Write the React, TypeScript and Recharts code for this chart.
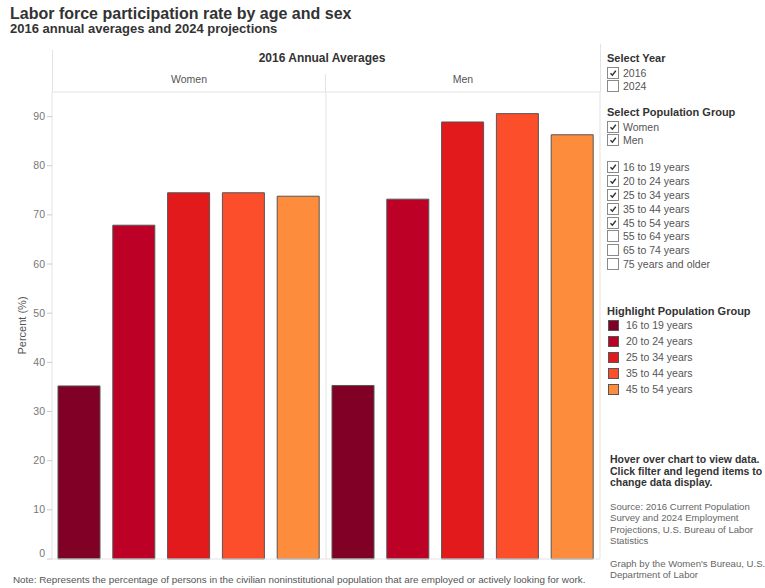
import { BarChart, Bar, XAxis, YAxis, CartesianGrid, ReferenceLine, Cell, Label } from 'recharts';

const SEXES = ['Women', 'Men'];
const AGE_GROUPS = ['16 to 19 years', '20 to 24 years', '25 to 34 years', '35 to 44 years', '45 to 54 years'];
const WOMEN_2016 = [35.2, 67.9, 74.5, 74.5, 73.8];
const MEN_2016 = [35.3, 73.2, 88.9, 90.6, 86.3];
const AGE_COLORS = ['#800026', '#bd0026', '#e31a1c', '#fc4e2a', '#fd8d3c'];
const Y_TICKS = [0, 10, 20, 30, 40, 50, 60, 70, 80, 90];

const YEARS = ['2016', '2024'];
const CHECKED_YEARS = ['2016'];
const ALL_AGE_GROUPS = [...AGE_GROUPS, '55 to 64 years', '65 to 74 years', '75 years and older'];

const FONT = "'Liberation Sans', Arial, sans-serif";
const GRID = '#e3e3e3';

const chartData = SEXES.flatMap((sex, s) =>
  AGE_GROUPS.map((age, i) => ({
    key: sex + '|' + age,
    sex,
    age,
    ageIndex: i,
    value: (s === 0 ? WOMEN_2016 : MEN_2016)[i],
  }))
);

function SexTick({ x, y, payload, index }: any) {
  // one label per panel, on the middle bar
  if (index % AGE_GROUPS.length !== Math.floor(AGE_GROUPS.length / 2)) return <g />;
  return (
    <text x={x} y={y} textAnchor="middle" fontSize={10.5} fill="#555" fontFamily={FONT}>
      {String(payload.value).split('|')[0]}
    </text>
  );
}

function PctTick({ x, y, payload }: any) {
  const dy = payload.value === 0 ? -2 : 3.5;
  return (
    <text x={x} y={y} dy={dy} textAnchor="end" fontSize={10.5} fill="#777" fontFamily={FONT}>
      {payload.value}
    </text>
  );
}

function CheckBox({ checked }: { checked: boolean }) {
  return (
    <div style={{ width: 10, height: 10, border: '1px solid #8a8a8a', background: '#fff', flex: 'none', marginRight: 4 }}>
      {checked && (
        <svg width={10} height={10} style={{ display: 'block' }}>
          <path d="M2.5 5.2 L4.4 7.2 L7.8 2.8" stroke="#333" strokeWidth={1.4} fill="none" />
        </svg>
      )}
    </div>
  );
}

function CheckRow({ label, checked, height }: { label: string; checked: boolean; height: number }) {
  return (
    <div style={{ display: 'flex', alignItems: 'center', height, fontSize: 10.5, color: '#555' }}>
      <CheckBox checked={checked} />
      <span>{label}</span>
    </div>
  );
}

const head: any = { fontWeight: 'bold', fontSize: 11, color: '#333', lineHeight: '14px' };

function SidePanel() {
  return (
    <div style={{ position: 'absolute', left: 607, top: 0, width: 158, height: 588, fontFamily: FONT, whiteSpace: 'nowrap' }}>
      <div style={{ position: 'absolute', top: 51, ...head }}>Select Year</div>
      <div style={{ position: 'absolute', top: 66 }}>
        {YEARS.map((y) => (
          <CheckRow key={y} label={y} checked={CHECKED_YEARS.includes(y)} height={13.5} />
        ))}
      </div>
      <div style={{ position: 'absolute', top: 105, ...head }}>Select Population Group</div>
      <div style={{ position: 'absolute', top: 120 }}>
        {SEXES.map((s) => (
          <CheckRow key={s} label={s} checked height={13.5} />
        ))}
      </div>
      <div style={{ position: 'absolute', top: 160 }}>
        {ALL_AGE_GROUPS.map((a) => (
          <CheckRow key={a} label={a} checked={AGE_GROUPS.includes(a)} height={13.9} />
        ))}
      </div>
      <div style={{ position: 'absolute', top: 304, ...head }}>Highlight Population Group</div>
      <div style={{ position: 'absolute', top: 317 }}>
        {AGE_GROUPS.map((a, i) => (
          <div key={a} style={{ display: 'flex', alignItems: 'center', height: 16, fontSize: 10.5, color: '#555' }}>
            <div style={{ width: 9, height: 9, background: AGE_COLORS[i], border: '1px solid #555', marginLeft: 1, marginRight: 7 }} />
            <span>{a}</span>
          </div>
        ))}
      </div>
      <div style={{ position: 'absolute', top: 454, left: 3, fontWeight: 'bold', fontSize: 10.5, color: '#333', lineHeight: '11.5px' }}>
        Hover over chart to view data.<br />
        Click filter and legend items to<br />
        change data display.
      </div>
      <div style={{ position: 'absolute', top: 501, left: 3, fontSize: 9.6, color: '#666', lineHeight: '11.4px' }}>
        Source: 2016 Current Population<br />
        Survey and 2024 Employment<br />
        Projections, U.S. Bureau of Labor<br />
        Statistics
      </div>
      <div style={{ position: 'absolute', top: 558, left: 3, fontSize: 9.6, color: '#666', lineHeight: '11.4px' }}>
        Graph by the Women's Bureau, U.S.<br />
        Department of Labor
      </div>
    </div>
  );
}

export default function App() {
  return (
    <div style={{ position: 'absolute', left: 0, top: 0, width: 765, height: 588, background: '#fff', fontFamily: FONT, overflow: 'hidden' }}>
      <div style={{ position: 'absolute', left: 10, top: 4, fontSize: 16, fontWeight: 'bold', color: '#333', lineHeight: '20px' }}>
        Labor force participation rate by age and sex
      </div>
      <div style={{ position: 'absolute', left: 10, top: 21, fontSize: 13, fontWeight: 'bold', color: '#333', lineHeight: '16px' }}>
        2016 annual averages and 2024 projections
      </div>
      <div style={{ position: 'absolute', left: 52, width: 540, top: 51, textAlign: 'center', fontSize: 12, fontWeight: 'bold', color: '#333', lineHeight: '15px' }}>
        2016 Annual Averages
      </div>
      {/* header frame lines above the plot */}
      <div style={{ position: 'absolute', left: 52, top: 50, width: 1, height: 42, background: GRID }} />
      <div style={{ position: 'absolute', left: 325, top: 74, width: 1, height: 18, background: GRID }} />
      <div style={{ position: 'absolute', left: 600, top: 44, width: 1, height: 48, background: GRID }} />

      <BarChart
        width={765}
        height={588}
        data={chartData}
        margin={{ top: 48, right: 165, bottom: 29, left: 12 }}
        barSize={42}
        style={{ position: 'absolute', left: 0, top: 0 }}
      >
        <CartesianGrid
          horizontal={false}
          stroke={GRID}
          verticalCoordinatesGenerator={({ offset }: any) => [offset.left + offset.width / 2, offset.left + offset.width]}
        />
        <XAxis
          dataKey="key"
          orientation="top"
          height={44}
          interval={0}
          tickSize={0}
          tickMargin={9}
          tick={<SexTick />}
          axisLine={{ stroke: GRID }}
        />
        <YAxis
          type="number"
          domain={[0, 95]}
          ticks={Y_TICKS}
          width={40}
          tickSize={5}
          tick={<PctTick />}
          tickLine={{ stroke: '#ccc' }}
          axisLine={{ stroke: GRID }}
          fontFamily={FONT}
        >
          <Label value="Percent (%)" angle={-90} position="center" dx={-10} fontSize={11} fill="#555" fontFamily={FONT} />
        </YAxis>
        <ReferenceLine y={0} stroke={GRID} />
        <Bar dataKey="value" stroke="#555" strokeWidth={1} isAnimationActive={false}>
          {chartData.map((d) => (
            <Cell key={d.key} fill={AGE_COLORS[d.ageIndex]} />
          ))}
        </Bar>
      </BarChart>

      <SidePanel />

      <div style={{ position: 'absolute', left: 13, top: 573, fontSize: 9.85, color: '#555', lineHeight: '13px', whiteSpace: 'nowrap' }}>
        Note: Represents the percentage of persons in the civilian noninstitutional population that are employed or actively looking for work.
      </div>
    </div>
  );
}
